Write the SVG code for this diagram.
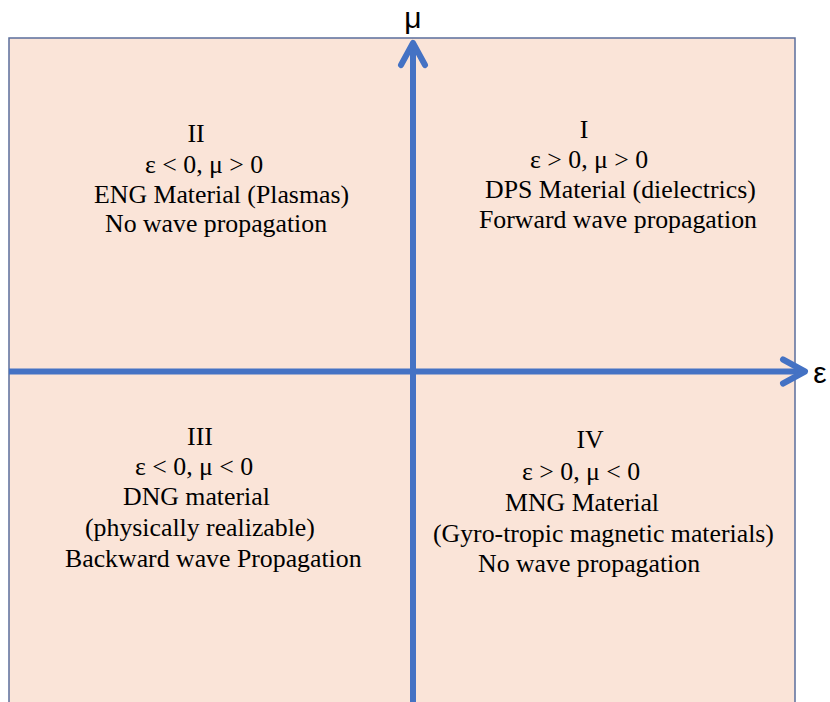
<svg xmlns="http://www.w3.org/2000/svg" width="830" height="702" viewBox="0 0 830 702">
<defs>
<style>
.q{font-family:"Liberation Serif","Times New Roman",serif;font-size:25.8px;fill:#000}
.ax{font-family:"Liberation Sans",Arial,sans-serif;font-size:30px;fill:#000;text-anchor:middle}
.axis{stroke:#4472C4;stroke-width:6;fill:none}
</style>
<marker id="arr" markerUnits="userSpaceOnUse" markerWidth="40" markerHeight="40" viewBox="-30 -20 40 40" refX="0" refY="0" orient="auto">
<path d="M-22,-12 L0,0 L-22,12" fill="none" stroke="#4472C4" stroke-width="6" stroke-linecap="round" stroke-linejoin="round"/>
</marker>
</defs>
<rect x="0" y="0" width="830" height="702" fill="#FFFFFF"/>
<g id="plane">
<rect x="9" y="38" width="786" height="680" fill="#FAE4D8" stroke="#5B6E9C" stroke-width="1.5"/>
</g>
<g id="connectors">
<line class="axis" x1="9" y1="371.5" x2="805" y2="371.5" marker-end="url(#arr)"/>
<line class="axis" x1="413" y1="702" x2="413" y2="43" marker-end="url(#arr)"/>
</g>
<g id="axis-mu"><text class="ax" x="413" y="28">μ</text></g>
<g id="axis-eps"><text class="ax" x="820" y="383">ε</text></g>
<g id="quadrant-I">
<text class="q" x="584" y="138" text-anchor="middle">I</text>
<text class="q" x="530" y="168">ε &gt; 0, μ &gt; 0</text>
<text class="q" x="485" y="198">DPS Material (dielectrics)</text>
<text class="q" x="479" y="228">Forward wave propagation</text>
</g>
<g id="quadrant-II">
<text class="q" x="196" y="142" text-anchor="middle">II</text>
<text class="q" x="145" y="173">ε &lt; 0, μ &gt; 0</text>
<text class="q" x="94" y="203">ENG Material (Plasmas)</text>
<text class="q" x="105" y="232">No wave propagation</text>
</g>
<g id="quadrant-III">
<text class="q" x="200" y="445" text-anchor="middle">III</text>
<text class="q" x="135" y="475">ε &lt; 0, μ &lt; 0</text>
<text class="q" x="123" y="505">DNG material</text>
<text class="q" x="85" y="536">(physically realizable)</text>
<text class="q" x="65" y="567">Backward wave Propagation</text>
</g>
<g id="quadrant-IV">
<text class="q" x="590" y="448" text-anchor="middle">IV</text>
<text class="q" x="522" y="480">ε &gt; 0, μ &lt; 0</text>
<text class="q" x="505" y="511">MNG Material</text>
<text class="q" x="433" y="542">(Gyro-tropic magnetic materials)</text>
<text class="q" x="478" y="572">No wave propagation</text>
</g>
</svg>
